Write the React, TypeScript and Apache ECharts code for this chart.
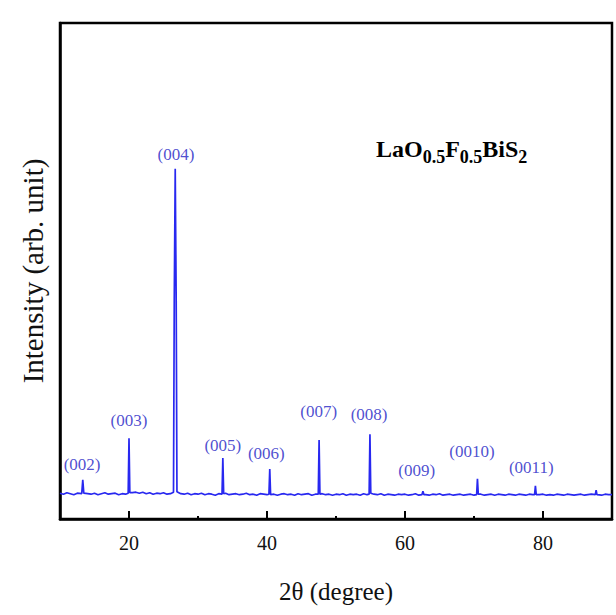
import React, { useEffect, useRef } from "react";
import * as echarts from "echarts";

// 2θ sampling of the background (degrees)
const baseStart = 10;
const baseStep = 0.5;
// background intensity (arb. units)
const baseline: number[] = [
  5.2, 5.0, 5.3, 5.1, 4.9, 5.2, 5.0, 5.3, 5.1, 5.0, 5.2, 4.9, 5.1, 5.3, 5.0, 5.1, 5.2, 4.9, 5.1, 5.0,
  5.1, 5.3, 5.4, 5.2, 5.4, 5.1, 5.3, 5.0, 5.2, 5.1, 5.3, 5.0, 5.1, 5.2, 4.9, 5.1, 5.0, 5.2, 4.9, 5.1,
  5.0, 5.2, 4.9, 5.1, 5.0, 4.8, 5.1, 5.0, 5.2, 4.9, 5.0, 5.1, 4.9, 5.0, 5.2, 4.9, 5.0, 4.8, 5.1, 5.0,
  4.9, 5.1, 5.0, 4.8, 5.0, 5.1, 4.9, 5.0, 4.8, 5.1, 4.9, 5.0, 5.1, 4.8, 5.0, 4.9, 5.1, 4.9, 5.0, 4.8,
  5.0, 4.9, 5.1, 4.8, 5.0, 4.9, 5.0, 4.8, 5.1, 4.9, 4.8, 5.0, 4.9, 5.1, 4.8, 5.0, 4.9, 4.8, 5.0, 4.9,
  5.0, 4.8, 4.9, 5.1, 4.8, 5.0, 4.9, 4.8, 5.0, 4.9, 5.1, 4.8, 4.9, 5.0, 4.8, 4.9, 5.0, 4.8, 4.9, 5.0,
  4.8, 4.9, 5.0, 4.8, 4.9, 5.0, 4.8, 5.0, 4.9, 4.8, 5.0, 4.9, 4.8, 5.0, 4.9, 4.8, 5.0, 4.9, 4.8, 4.9,
  5.0, 4.8, 4.9, 4.8, 5.0, 4.9, 4.8, 5.0, 4.9, 4.8, 4.9, 5.0, 4.8, 4.9, 5.0, 4.8, 4.9, 4.8, 5.0, 4.9,
  4.9,
];

// peak profile points [2θ, intensity]
const peakPoints: [number, number][] = [
  [13.15, 5.1], [13.3, 7.9], [13.45, 5.2],
  [19.88, 5.2], [20.0, 16.3], [20.12, 5.3],
  [26.45, 5.4], [26.56, 44.2], [26.7, 70.6], [26.84, 44.0], [26.95, 5.5],
  [33.48, 5.0], [33.6, 12.3], [33.72, 5.1],
  [40.28, 5.0], [40.4, 10.1], [40.52, 4.9],
  [47.43, 5.0], [47.55, 15.9], [47.67, 5.0],
  [54.8, 5.0], [54.92, 17.1], [55.04, 5.2],
  [62.45, 4.9], [62.6, 5.6], [62.75, 4.9],
  [70.38, 4.9], [70.5, 8.1], [70.62, 5.0],
  [78.78, 4.9], [78.9, 6.7], [79.02, 4.9],
  [87.58, 4.9], [87.7, 5.8], [87.82, 4.9],
];

// Miller index labels
const peakLabels = ["(002)", "(003)", "(004)", "(005)", "(006)", "(007)", "(008)", "(009)", "(0010)", "(0011)"];
const labelX = [13.2, 20.0, 26.8, 33.6, 39.9, 47.5, 54.8, 61.7, 69.7, 78.3];
const labelY = [10.9, 19.8, 73.4, 14.9, 13.3, 21.6, 21.0, 9.7, 13.7, 10.3];

const majorTicks = [20, 40, 60, 80];
const minorTicks = [30, 50, 70];

const FONT = "'Times New Roman', 'Liberation Serif', serif";
const LINE_BLUE = "#2828f0";
const LABEL_BLUE = "#2222c4";

export default function App() {
  const ref = useRef<HTMLDivElement>(null);

  useEffect(() => {
    if (!ref.current) return;
    const chart = echarts.init(ref.current, undefined, { renderer: "svg" });

    const pts: [number, number][] = [];
    baseline.forEach((v, i) => {
      const x = baseStart + i * baseStep;
      const near = peakPoints.some((p) => Math.abs(p[0] - x) < 0.2);
      if (!near) pts.push([x, v]);
    });
    peakPoints.forEach((p) => pts.push([p[0], p[1]]));
    pts.sort((a, b) => a[0] - b[0]);

    const labelData = peakLabels.map((n, i) => ({ name: n, value: [labelX[i], labelY[i]] }));

    chart.setOption({
      animation: false,
      grid: {
        left: 60,
        right: 4,
        top: 23,
        height: 496,
        show: true,
        borderColor: "#000",
        borderWidth: 2.5,
        backgroundColor: "transparent",
      },
      xAxis: [
        {
          type: "value",
          min: 10,
          max: 90,
          name: "2θ (degree)",
          nameLocation: "middle",
          nameGap: 60,
          nameTextStyle: { fontFamily: FONT, fontSize: 25, color: "#111" },
          axisLine: { show: true, lineStyle: { color: "#000", width: 2.5 } },
          axisTick: {
            show: true,
            inside: true,
            length: 8,
            lineStyle: { color: "#000", width: 2 },
            customValues: majorTicks,
          },
          axisLabel: {
            show: true,
            fontFamily: FONT,
            fontSize: 20,
            color: "#111",
            margin: 14,
            customValues: majorTicks,
          },
          splitLine: { show: false },
        },
        {
          type: "value",
          min: 10,
          max: 90,
          position: "bottom",
          axisLine: { show: false },
          axisTick: {
            show: true,
            inside: true,
            length: 3,
            lineStyle: { color: "#000", width: 2 },
            customValues: minorTicks,
          },
          axisLabel: { show: false },
          splitLine: { show: false },
        },
      ],
      yAxis: {
        type: "value",
        min: 0,
        max: 100,
        name: "Intensity (arb. unit)",
        nameLocation: "middle",
        nameGap: 13,
        nameTextStyle: { fontFamily: FONT, fontSize: 29, color: "#111" },
        axisLine: { show: true, lineStyle: { color: "#000", width: 2.5 } },
        axisTick: { show: false },
        axisLabel: { show: false },
        splitLine: { show: false },
      },
      graphic: [
        {
          type: "text",
          left: 376,
          top: 137,
          style: {
            text: "{m|LaO}{s|0.5}{m|F}{s|0.5}{m|BiS}{s|2}",
            rich: {
              m: { fontFamily: FONT, fontSize: 24, fontWeight: "bold", fill: "#000", lineHeight: 34, verticalAlign: "middle" },
              s: { fontFamily: FONT, fontSize: 18, fontWeight: "bold", fill: "#000", lineHeight: 18, verticalAlign: "bottom" },
            },
          },
        },
      ],
      series: [
        {
          type: "line",
          data: pts,
          showSymbol: false,
          symbol: "none",
          lineStyle: { color: LINE_BLUE, width: 1.7 },
          xAxisIndex: 0,
          yAxisIndex: 0,
        },
        {
          type: "scatter",
          data: labelData,
          symbolSize: 1,
          itemStyle: { color: "rgba(0,0,0,0)" },
          label: {
            show: true,
            position: "inside",
            formatter: (p: any) => p.name,
            fontFamily: FONT,
            fontSize: 17,
            color: LABEL_BLUE,
          },
          xAxisIndex: 0,
          yAxisIndex: 0,
        },
      ],
    });

    return () => chart.dispose();
  }, []);

  return (
    <div
      ref={ref}
      style={{ position: "absolute", left: 0, top: 0, width: 616, height: 615 }}
    />
  );
}
